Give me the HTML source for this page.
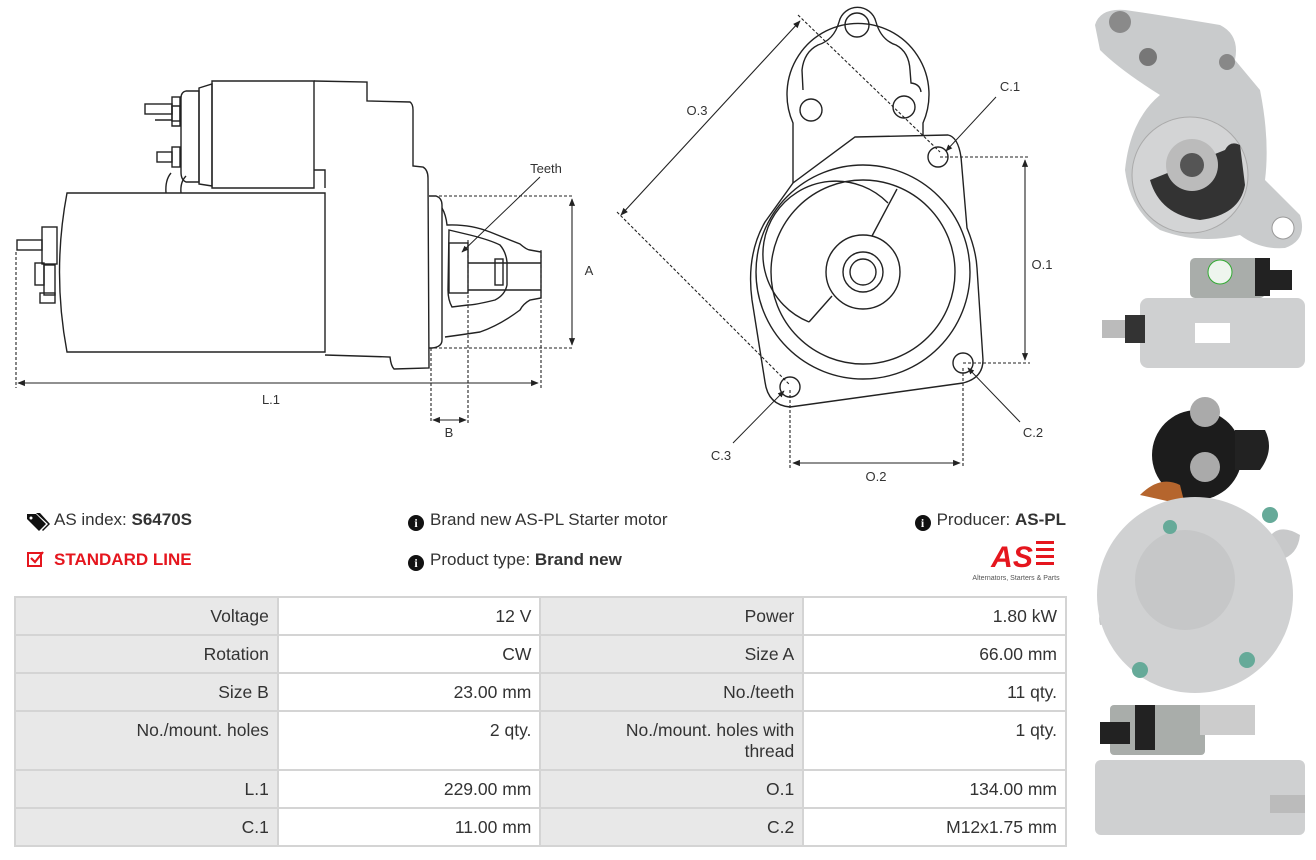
<!DOCTYPE html>
<html><head><meta charset="utf-8"><style>
body{margin:0;width:1316px;height:860px;background:#fff;position:relative;overflow:hidden;font-family:"Liberation Sans",sans-serif;color:#333}
.t{position:absolute;font-size:17px;white-space:nowrap}
table{position:absolute;left:14px;top:596px;width:1053px;border-collapse:collapse;font-size:17.5px;color:#333}
td{border:2px solid #d4d4d4;text-align:right;vertical-align:top;padding:8px 8px 0 8px;width:246px;height:28px;line-height:21px}
td.g{background:#e8e8e8}
.ic{display:inline-block;width:16px;height:16px;border-radius:50%;background:#111;color:#fff;font-size:12px;font-weight:bold;text-align:center;line-height:16px;vertical-align:-2px;margin-right:6px;font-family:"Liberation Serif",serif}
</style></head><body>
<svg width="1316" height="860" style="position:absolute;left:0;top:0" font-family="Liberation Sans, sans-serif">
<defs><marker id="a" viewBox="0 0 10 10" refX="9" refY="5" markerWidth="7" markerHeight="7" orient="auto-start-reverse"><path d="M0,1 L10,5 L0,9 z" fill="#222"/></marker></defs>
<g fill="none" stroke="#222" stroke-width="1.4">
<!-- side view -->
<path d="M67,193 L325,193 L325,352 L67,352 Q52,272 67,193 Z"/>
<path d="M212,81 L314,81 L314,188 L212,188 Z"/>
<path d="M199,88 L212,84 L212,186 L199,184 Z"/>
<path d="M186,91 L199,91 L199,182 L186,182 Q181,180 181,172 L181,98 Q181,92 186,91 Z"/>
<path d="M314,81 L367,82 L367,101 L410,102 Q413,104 413,110 L413,166 L423,167 Q428,170 428,178 L429,368 L394,369 Q391,366 390,357 L325,355"/>
<path d="M325,188 L325,170 L314,170"/>
<path d="M166,193 Q165,180 171,173 M181,193 Q180,182 186,176"/>
<path d="M429,196 L436,196 Q442,198 442,205 L442,340 Q442,347 432,348 L429,348"/>
<path d="M442,208 Q446,215 447,225 Q470,224 490,232 Q510,240 520,244 Q527,250 530,250 L541,252 L541,298 L530,300 Q523,304 520,310 Q500,325 480,332 Q460,335 445,337"/>
<path d="M449,230 L470,235 Q490,240 500,245 Q506,252 507,262 L507,285 Q505,295 495,300 Q475,305 468,305 L452,307 Q448,300 448,290 L449,230 Z"/>
<rect x="449" y="243" width="19" height="50"/>
<path d="M468,263 L541,263 M468,290 L541,290"/>
<rect x="495" y="259" width="8" height="26"/>
<path d="M155,120 L172,120 L172,106 L180,106 L180,126 L172,126 L172,120"/>
<rect x="145" y="104" width="27" height="10"/><rect x="172" y="97" width="8" height="24"/>
<rect x="157" y="152" width="15" height="10"/><rect x="172" y="147" width="8" height="20"/>
<rect x="17" y="240" width="25" height="10"/><rect x="42" y="227" width="15" height="37"/>
<rect x="35" y="263" width="9" height="22"/><rect x="44" y="265" width="11" height="30"/>
<rect x="40" y="293" width="15" height="10"/>
<!-- flange view -->
<path d="M793,183 L793,123 A71,71 0 1 1 923,123 L923,136"/>
<path d="M803,90 L802,70 Q804,52 818,45 Q834,40 839,22 A19,19 0 0 1 876,22 Q881,40 896,45 Q909,52 910,70 L911,83 Q920,84 921,92"/>
<path d="M855,137 L948,135 Q958,137 961,157 L967,228 Q976,250 977,268 L983,360 Q983,378 963,383 L790,407 Q768,405 765,382 L752,300 Q746,255 765,222 L793,183 Z"/>
<circle cx="863" cy="272" r="107"/><circle cx="863" cy="272" r="92"/>
<path d="M888,203 A73,73 0 1 0 809,322"/>
<path d="M897,189 L872,236 M809,322 L832,296"/>
<circle cx="863" cy="272" r="37"/><circle cx="863" cy="272" r="20"/><circle cx="863" cy="272" r="13"/>
<circle cx="857" cy="25" r="12"/><circle cx="811" cy="110" r="11"/><circle cx="904" cy="107" r="11"/>
<circle cx="938" cy="157" r="10"/><circle cx="963" cy="363" r="10"/><circle cx="790" cy="387" r="10"/>
</g>
<g fill="none" stroke="#222" stroke-width="1.1" stroke-dasharray="3,2">
<path d="M429,196 L572,196 M429,348 L572,348 M16,252 L16,388 M541,250 L541,388 M431,348 L431,423 M468,240 L468,423"/>
<path d="M798,15 L940,152 M617,212 L790,385 M940,157 L1030,157 M963,363 L1030,363 M790,390 L790,468 M963,368 L963,468"/>
</g>
<g fill="none" stroke="#222" stroke-width="1.1" marker-start="url(#a)" marker-end="url(#a)">
<line x1="572" y1="199" x2="572" y2="345"/>
<line x1="18" y1="383" x2="538" y2="383"/>
<line x1="433" y1="420" x2="466" y2="420"/>
<line x1="800" y1="21" x2="621" y2="215"/>
<line x1="1025" y1="160" x2="1025" y2="360"/>
<line x1="793" y1="463" x2="960" y2="463"/>
</g>
<g fill="none" stroke="#222" stroke-width="1" marker-end="url(#a)">
<line x1="540" y1="177" x2="462" y2="252"/>
<line x1="996" y1="97" x2="946" y2="151"/>
<line x1="1020" y1="422" x2="968" y2="368"/>
<line x1="733" y1="443" x2="784" y2="391"/>
</g>
<g font-size="13" fill="#333" text-anchor="middle">
<text x="546" y="173">Teeth</text><text x="589" y="275">A</text><text x="271" y="404">L.1</text><text x="449" y="437">B</text>
<text x="697" y="115">O.3</text><text x="1010" y="91">C.1</text><text x="1042" y="269">O.1</text><text x="1033" y="437">C.2</text><text x="721" y="460">C.3</text><text x="876" y="481">O.2</text>
</g>
<!-- icons -->
<path d="M27,514 L36,514 L46,524 L39,531 L27,519 Z" fill="#111"/><circle cx="31" cy="518" r="1.5" fill="#fff"/>
<path d="M36,513 L40,513 L50,524 L43,531 L42,530 L48,524 Z" fill="#111"/>
<rect x="28" y="553" width="13" height="13" fill="none" stroke="#e5161e" stroke-width="2"/>
<path d="M31,558 L35,562 L43,552" fill="none" stroke="#e5161e" stroke-width="2.2"/>
<!-- photos -->
<g>
<path d="M1095,25 Q1100,8 1125,10 Q1160,15 1220,25 Q1240,35 1235,60 L1260,90 Q1270,140 1265,180 L1300,215 Q1308,240 1285,248 Q1260,250 1240,235 Q1200,245 1160,230 Q1130,210 1125,170 Q1130,120 1160,95 Q1120,70 1100,50 Z" fill="#c9cbcc"/>
<circle cx="1190" cy="175" r="58" fill="#d3d4d5" stroke="#aaa"/>
<path d="M1150,180 Q1160,215 1200,220 Q1240,215 1245,185 L1240,145 Q1230,140 1225,150 Z" fill="#333"/>
<circle cx="1192" cy="165" r="26" fill="#bbb"/><circle cx="1192" cy="165" r="12" fill="#555"/>
<circle cx="1120" cy="22" r="11" fill="#8a8a8a"/><circle cx="1148" cy="57" r="9" fill="#777"/><circle cx="1227" cy="62" r="8" fill="#888"/><circle cx="1283" cy="228" r="11" fill="#fff" stroke="#999"/>
<rect x="1140" y="298" width="165" height="70" rx="8" fill="#cfd0d1"/>
<rect x="1190" y="258" width="75" height="40" rx="5" fill="#a9adaa"/><circle cx="1220" cy="272" r="12" fill="#eef5ee" stroke="#3a3"/>
<rect x="1255" y="258" width="15" height="38" fill="#222"/><rect x="1262" y="270" width="30" height="20" fill="#222"/>
<rect x="1102" y="320" width="40" height="18" fill="#bbb"/><rect x="1125" y="315" width="20" height="28" fill="#333"/>
<rect x="1195" y="323" width="35" height="20" fill="#fff"/>
<circle cx="1197" cy="455" r="45" fill="#1c1c1c"/><path d="M1235,430 L1265,430 Q1275,450 1260,470 L1235,470 Z" fill="#222"/>
<circle cx="1205" cy="412" r="15" fill="#aaa"/><circle cx="1205" cy="467" r="15" fill="#aaa"/>
<path d="M1140,495 Q1160,475 1180,485 L1185,505 Z" fill="#b5652d"/>
<path d="M1100,625 Q1095,605 1118,600 L1135,620 Z M1265,545 Q1275,520 1300,535 Q1298,555 1280,560 Z" fill="#c8c9ca"/>
<circle cx="1195" cy="595" r="98" fill="#d0d1d2"/><circle cx="1185" cy="580" r="50" fill="#c6c7c8"/>
<circle cx="1170" cy="527" r="7" fill="#6a9"/><circle cx="1270" cy="515" r="8" fill="#6a9"/><circle cx="1247" cy="660" r="8" fill="#6a9"/><circle cx="1140" cy="670" r="8" fill="#6a9"/>
<rect x="1095" y="760" width="210" height="75" rx="6" fill="#cfd0d1"/>
<rect x="1110" y="705" width="95" height="50" rx="4" fill="#a9adaa"/><rect x="1135" y="705" width="20" height="45" fill="#222"/><rect x="1100" y="722" width="30" height="22" fill="#222"/>
<rect x="1200" y="705" width="55" height="30" fill="#ccc"/>
<rect x="1270" y="795" width="35" height="18" fill="#bbb"/>
</g>
<!-- logo -->
<text x="1012" y="567" font-size="30" font-weight="bold" font-style="italic" fill="#e5161e" text-anchor="middle">AS</text>
<g fill="#e5161e"><rect x="1036" y="541" width="18" height="3"/><rect x="1036" y="548" width="18" height="3"/><rect x="1036" y="555" width="18" height="3"/><rect x="1036" y="562" width="18" height="3"/></g>
<text x="1016" y="580" font-size="7" fill="#555" text-anchor="middle">Alternators, Starters &amp; Parts</text>
</svg>
<div class="t" style="left:54px;top:510px">AS index: <b>S6470S</b></div>
<div class="t" style="left:54px;top:550px;color:#e5161e;font-weight:bold">STANDARD LINE</div>
<div class="t" style="left:408px;top:510px"><span class="ic">i</span>Brand new AS-PL Starter motor</div>
<div class="t" style="left:408px;top:550px"><span class="ic">i</span>Product type: <b>Brand new</b></div>
<div class="t" style="right:250px;top:510px"><span class="ic">i</span>Producer: <b>AS-PL</b></div>
<table>
<tr><td class="g">Voltage</td><td>12 V</td><td class="g">Power</td><td>1.80 kW</td></tr>
<tr><td class="g">Rotation</td><td>CW</td><td class="g">Size A</td><td>66.00 mm</td></tr>
<tr><td class="g">Size B</td><td>23.00 mm</td><td class="g">No./teeth</td><td>11 qty.</td></tr>
<tr><td class="g" style="height:49px">No./mount. holes</td><td>2 qty.</td><td class="g">No./mount. holes with<br>thread</td><td>1 qty.</td></tr>
<tr><td class="g">L.1</td><td>229.00 mm</td><td class="g">O.1</td><td>134.00 mm</td></tr>
<tr><td class="g">C.1</td><td>11.00 mm</td><td class="g">C.2</td><td>M12x1.75 mm</td></tr>
</table>
</body></html>
